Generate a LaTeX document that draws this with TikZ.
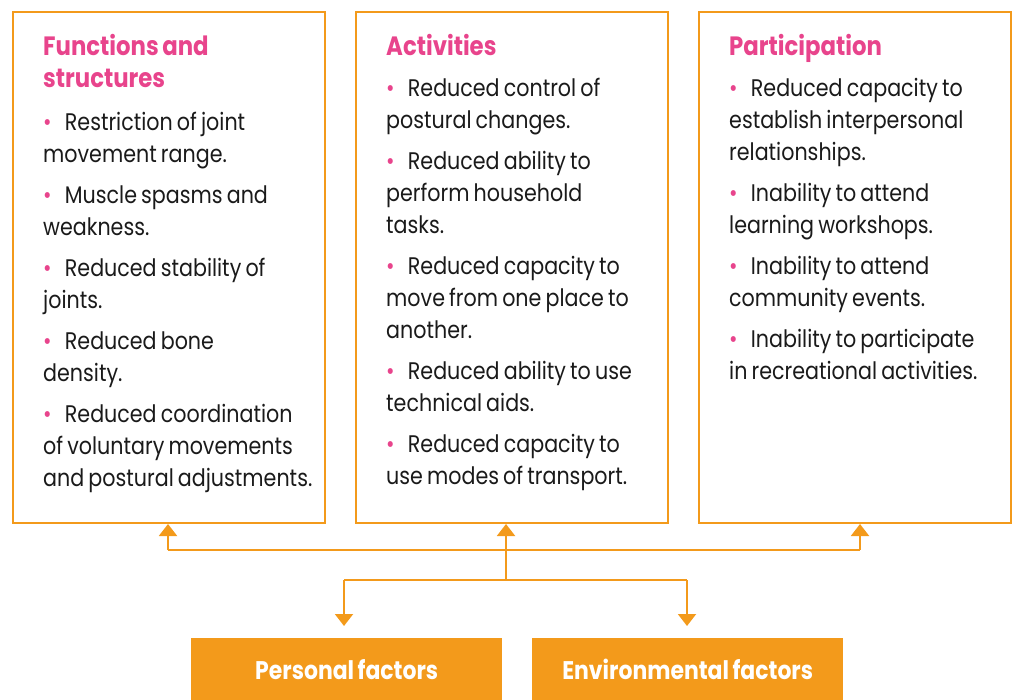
\documentclass[tikz,border=0pt]{standalone}
\usepackage{fontspec}
\setmainfont{Poppins}[FakeStretch=0.86,WordSpace=0.75]
\usetikzlibrary{arrows.meta}
\definecolor{orng}{HTML}{F39A1B}
\definecolor{pnk}{HTML}{E8448C}
\definecolor{txt}{HTML}{1A1A1A}
\newcommand{\bul}{{\color{pnk}\textbullet}\hspace{0.55em}}
\newcommand{\hd}[1]{{\color{pnk}\fontsize{26.5}{32}\selectfont\bfseries #1}}
\tikzset{
  panel/.style={draw=orng, line width=2pt, anchor=north west, minimum width=312pt, minimum height=511pt, inner sep=0pt},
  txtblock/.style={anchor=north west, inner sep=0pt, align=left, text=txt, font=\fontsize{24}{32}\selectfont},
  factor/.style={fill=orng, anchor=north west, minimum width=311pt, minimum height=62pt, inner sep=0pt, text=white, font=\fontsize{25.5}{28}\selectfont\bfseries},
  link/.style={draw=orng, line width=2pt},
  tip/.style={-{Triangle[width=18pt,length=12pt]}}
}
\begin{document}
\begin{tikzpicture}[x=1pt,y=-1pt]
\useasboundingbox (0,0) rectangle (1014,700);
\node[panel] (b1) at (12,11) {};
\node[panel] (b2) at (355,11) {};
\node[panel] (b3) at (698,11) {};
\node[txtblock] (t1) at (43,34) {\hd{Functions and}\\\hd{structures}\\[11pt]
\bul Restriction of joint\\movement range.\\[9pt]
\bul Muscle spasms and\\weakness.\\[9pt]
\bul Reduced stability of\\joints.\\[9pt]
\bul Reduced bone\\density.\\[9pt]
\bul Reduced coordination\\of voluntary movements\\and postural adjustments.};
\node[txtblock] (t2) at (386,34) {\hd{Activities}\\[9pt]
\bul Reduced control of\\postural changes.\\[9pt]
\bul Reduced ability to\\perform household\\tasks.\\[9pt]
\bul Reduced capacity to\\move from one place to\\another.\\[9pt]
\bul Reduced ability to use\\technical aids.\\[9pt]
\bul Reduced capacity to\\use modes of transport.};
\node[txtblock] (t3) at (729,34) {\hd{Participation}\\[9pt]
\bul Reduced capacity to\\establish interpersonal\\relationships.\\[9pt]
\bul Inability to attend\\learning workshops.\\[9pt]
\bul Inability to attend\\community events.\\[9pt]
\bul Inability to participate\\in recreational activities.};
\node[factor] (pf) at (191,638) {Personal factors};
\node[factor] (ef) at (532,638) {Environmental factors};
\coordinate (jL) at (168,550);
\coordinate (jR) at (860,550);
\coordinate (jM) at (506,580);
\coordinate (dL) at (344,580);
\coordinate (dR) at (687,580);
\draw[link] (jL) -- (jR);
\draw[link,tip] (jL) -- (b1.south -| jL);
\draw[link,tip] (jR) -- (b3.south -| jR);
\draw[link,tip] (jM) -- (b2.south -| jM);
\draw[link] (dL) -- (dR);
\draw[link,tip] (dL) -- ([yshift=12pt]pf.north -| dL);
\draw[link,tip] (dR) -- ([yshift=12pt]ef.north -| dR);
\end{tikzpicture}
\end{document}
